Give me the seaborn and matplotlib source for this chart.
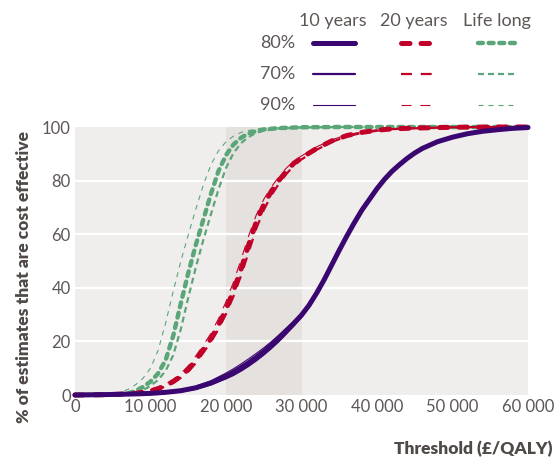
import matplotlib
matplotlib.use("Agg")
import matplotlib.pyplot as plt
import seaborn as sns
from matplotlib.lines import Line2D

sns.set_theme(style="white")
plt.rcParams["font.family"] = ["Lato", "DejaVu Sans"]

PURPLE = "#3a0670"
RED = "#c1002a"
GREEN = "#5ba678"
TEXT = "#5d5856"
LABEL = "#4f4947"

# threshold values in £1000s
x_purple = [0, 4, 8, 10, 12, 14, 16, 18, 20, 21, 22, 23, 24, 25, 26, 27, 28, 29, 30, 31, 32,
            33, 34, 35, 36, 37, 38, 39, 40, 41, 42, 43, 44, 45, 46, 48, 50, 52, 54, 56, 58, 60]
purple_80 = [0, 0.15, 0.4, 0.6, 1, 1.6, 2.7, 4.5, 7, 8.5, 10.2, 12, 14, 16.2, 18.6, 21.2, 24, 26.8, 29.8, 33.5, 38,
             43, 48.5, 54, 59.3, 64.3, 69, 73, 77, 80.5, 83.5, 86, 88.3, 90.3, 92, 94.5, 96.2, 97.5, 98.4, 99, 99.5, 99.8]
purple_70 = [0, 0.1, 0.3, 0.5, 0.8, 1.3, 2.3, 3.9, 6.2, 7.5, 9.1, 10.9, 12.9, 15.1, 17.5, 20.1, 23, 26, 29.2, 33, 37.6,
             42.7, 48.2, 53.7, 59, 64, 68.7, 72.7, 76.7, 80.2, 83.2, 85.7, 88, 90, 91.7, 94.3, 96, 97.4, 98.3, 98.9, 99.4, 99.8]
purple_90 = [0, 0.2, 0.5, 0.7, 1.2, 1.9, 3.2, 5.3, 8.2, 9.8, 11.6, 13.5, 15.5, 17.6, 19.9, 22.4, 25, 27.6, 30.4, 34, 38.4,
             43.3, 48.8, 54.3, 59.6, 64.6, 69.3, 73.3, 77.3, 80.8, 83.8, 86.3, 88.6, 90.6, 92.2, 94.7, 96.4, 97.6, 98.5, 99.1, 99.6, 99.9]

x_red = [0, 4, 6, 8, 10, 11, 12, 13, 14, 15, 16, 17, 18, 19, 20, 21, 22, 23, 24, 25, 26, 27,
         28, 29, 30, 32, 34, 36, 38, 40, 42, 45, 50, 55, 60]
red_80 = [0, 0.1, 0.3, 0.6, 1.5, 2.4, 3.5, 5, 7, 9.5, 13, 17, 21, 26, 32, 39, 47, 56, 64.5, 71, 76, 80,
          83.5, 86.5, 88.5, 92, 94.8, 96.8, 98, 98.8, 99.3, 99.6, 99.9, 100, 100]
red_70 = [0, 0.08, 0.25, 0.5, 1.3, 2.1, 3.2, 4.5, 6.4, 8.7, 11.9, 15.8, 19.8, 24.5, 30.2, 36.9, 44.6, 53.3, 62, 69, 74.5, 78.8,
          82.5, 85.6, 87.9, 91.5, 94.4, 96.5, 97.8, 98.6, 99.2, 99.5, 99.9, 100, 100]
red_90 = [0, 0.15, 0.35, 0.8, 1.9, 2.8, 4.1, 5.8, 8, 10.9, 14.6, 18.6, 23, 28.4, 34.8, 42.2, 50.6, 59.4, 67.1, 73, 77.6, 81.4,
          84.7, 87.3, 89.2, 92.6, 95.2, 97.1, 98.2, 99, 99.4, 99.7, 99.9, 100, 100]

x_green = [0, 4, 6, 7, 8, 9, 10, 11, 12, 13, 14, 15, 16, 17, 18, 19, 20, 21, 22, 23, 24, 25,
           27, 30, 35, 40, 50, 60]
green_80 = [0, 0.1, 0.3, 0.6, 1.5, 3, 5, 8, 13, 22, 34, 45.5, 56, 65.5, 75, 83.5, 89.5, 93.5, 96, 97.6, 98.5, 99.1,
            99.6, 99.9, 100, 100, 100, 100]
green_70 = [0, 0.05, 0.15, 0.35, 0.8, 1.8, 3.4, 5.6, 9, 14.8, 24.4, 36.3, 47.6, 57.9, 67.4, 76.7, 84.7, 90.3, 94, 96.3, 97.8, 98.6,
            99.4, 99.8, 100, 100, 100, 100]
green_90 = [0, 0.2, 0.95, 2.1, 3.8, 6.2, 10, 16.6, 26.8, 38.6, 49.7, 59.8, 69.3, 78.4, 85.9, 91.1, 94.5, 96.6, 98, 98.7, 99.2, 99.45,
            99.8, 100, 100, 100, 100, 100]

x_ticks = [0, 10000, 20000, 30000, 40000, 50000, 60000]
x_tick_labels = ["0", "10 000", "20 000", "30 000", "40 000", "50 000", "60 000"]
y_ticks = [0, 20, 40, 60, 80, 100]

series_names = ["10 years", "20 years", "Life long"]
level_names = ["80%", "70%", "90%"]

# line styles: (linewidth, linestyle, capstyle) per level
styles = {
    "10 years": [(3.6, "-", "round"), (1.6, "-", "round"), (0.8, "-", "round")],
    "20 years": [(3.6, (0, (1.7, 2.2)), "round"), (1.6, (0, (4.9, 4.0)), "butt"), (0.8, (0, (9.0, 8.0)), "butt")],
    "Life long": [(3.2, (0, (1.1, 1.3)), "round"), (1.6, (0, (2.7, 1.8)), "butt"), (0.8, (0, (4.5, 4.5)), "butt")],
}
colors = {"10 years": PURPLE, "20 years": RED, "Life long": GREEN}
curves = {
    "10 years": (x_purple, [purple_80, purple_70, purple_90]),
    "20 years": (x_red, [red_80, red_70, red_90]),
    "Life long": (x_green, [green_80, green_70, green_90]),
}

W, H = 557, 457


def fx(px):
    return px / W


def fy(py):
    return 1 - py / H


fig = plt.figure(figsize=(W / 100, H / 100), dpi=100)
ax = fig.add_axes([fx(75), fy(395), (528 - 75) / W, (395 - 127) / H])
ax.set_facecolor("#f0eeed")
ax.axvspan(20000, 30000, color="#e5e1df", lw=0, zorder=0)
for y in y_ticks[1:-1]:
    ax.axhline(y, color="white", lw=1.6, zorder=0.5)

# green at the back, purple on top
for z, name in zip([2, 3, 4], ["Life long", "20 years", "10 years"]):
    xs, ys_list = curves[name]
    xs = [v * 1000 for v in xs]
    for (lw, ls, cap), ys in zip(styles[name], ys_list):
        sns.lineplot(x=xs, y=ys, ax=ax, color=colors[name], linewidth=lw, linestyle=ls,
                     solid_capstyle=cap, dash_capstyle=cap, clip_on=False, zorder=z)

ax.set_xlim(0, 60000)
ax.set_ylim(0, 100)
ax.set_xticks(x_ticks)
ax.set_xticklabels(x_tick_labels)
ax.set_yticks(y_ticks)
ax.tick_params(axis="x", direction="in", length=4, width=1, color="white", labelcolor=TEXT,
               labelsize=12, pad=3)
ax.tick_params(axis="y", length=0, labelcolor=TEXT, labelsize=12, pad=3)
for s in ax.spines.values():
    s.set_visible(False)
ax.set_xlabel("")
ax.set_ylabel("")

fig.text(fx(24), fy(277), "% of estimates that are cost effective", rotation=90,
         ha="center", va="center", fontsize=12.5, fontweight="heavy", color=LABEL)
fig.text(fx(553), fy(449), "Threshold (£/QALY)", ha="right", va="center",
         fontsize=12.5, fontweight="heavy", color=LABEL)

# legend table
head_x = [333, 414, 497]
seg_x = [(313, 355), (401, 436), (478, 518)]
row_y = [43, 74, 105]
for hx, name in zip(head_x, series_names):
    fig.text(fx(hx), fy(21), name, ha="center", va="center", fontsize=13, color=TEXT)
for ry, lvl in zip(row_y, level_names):
    fig.text(fx(295), fy(ry), lvl, ha="right", va="center", fontsize=13, color=TEXT)
for (x0, x1), name in zip(seg_x, series_names):
    for ry, (lw, ls, cap) in zip(row_y, styles[name]):
        fig.add_artist(Line2D([fx(x0), fx(x1)], [fy(ry), fy(ry)], transform=fig.transFigure,
                              color=colors[name], lw=lw, linestyle=ls,
                              solid_capstyle=cap, dash_capstyle=cap))

fig.savefig("out.png", dpi=100)
